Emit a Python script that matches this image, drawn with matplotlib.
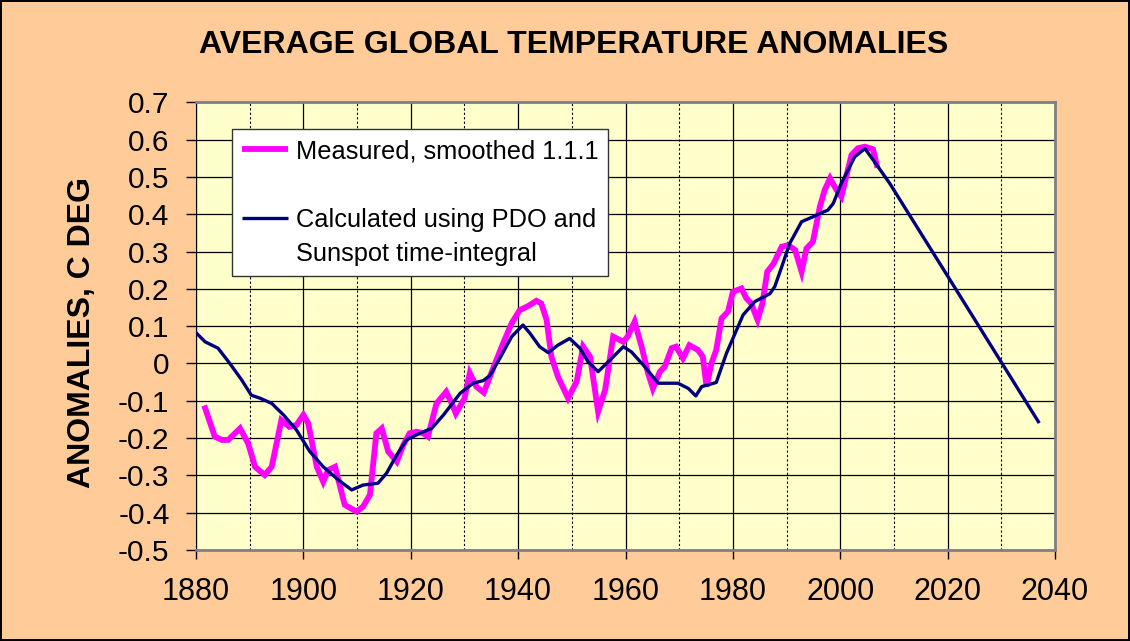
import numpy as np
import matplotlib
matplotlib.use("Agg")
import matplotlib.pyplot as plt
from matplotlib.lines import Line2D
from matplotlib.ticker import MultipleLocator, FixedLocator, FixedFormatter

plt.rcParams['font.family'] = ['Liberation Sans', 'DejaVu Sans']

# -----------------------------
#  Dados
# -----------------------------
measured_years = [1881.7, 1883.5, 1884.8, 1886.0, 1888.2, 1889.7, 1891.0, 1892.8, 1894.1,
                  1895.9, 1897.4, 1898.7, 1900.0, 1900.9, 1902.5, 1903.7, 1904.6, 1905.9,
                  1907.7, 1909.9, 1911.1, 1912.4, 1913.6, 1914.6, 1915.8, 1917.4, 1918.6,
                  1919.8, 1921.1, 1922.3, 1923.2, 1924.8, 1926.6, 1927.5, 1928.4, 1930.0,
                  1931.0, 1932.2, 1933.6, 1935.7, 1937.2, 1938.8, 1940.3, 1941.9,
                  1943.4, 1944.3, 1945.3, 1946.2, 1947.4, 1949.3, 1950.9, 1952.1, 1953.4,
                  1954.9, 1956.2, 1957.7, 1959.6, 1960.4, 1961.7, 1963.0, 1964.2, 1965.1,
                  1966.4, 1967.3, 1968.6, 1969.4, 1970.7, 1971.9, 1973.5, 1974.4, 1975.1,
                  1976.0, 1976.9, 1977.9, 1979.1, 1980.0, 1981.6, 1982.5, 1983.4, 1984.6,
                  1985.5, 1986.4, 1987.6, 1989.1, 1990.3, 1991.6, 1992.8, 1993.7, 1994.9,
                  1996.2, 1997.1, 1998.1, 1999.3, 2000.2, 2002.1, 2003.3, 2004.6, 2006.1,
                  2006.8]
measured_vals = [-0.12, -0.196, -0.205, -0.205, -0.174, -0.214, -0.277, -0.299, -0.277,
                 -0.152, -0.170, -0.165, -0.138, -0.160, -0.277, -0.317, -0.286, -0.277,
                 -0.379, -0.397, -0.384, -0.352, -0.187, -0.174, -0.236, -0.263, -0.219,
                 -0.187, -0.183, -0.187, -0.196, -0.107, -0.076, -0.103, -0.134, -0.094,
                 -0.026, -0.062, -0.078, 0.0, 0.054, 0.108, 0.143, 0.154,
                 0.168, 0.161, 0.117, 0.018, -0.035, -0.093, -0.049, 0.045, 0.018,
                 -0.129, -0.071, 0.072, 0.058, 0.072, 0.112, 0.045, -0.026, -0.067,
                 -0.022, -0.009, 0.041, 0.045, 0.014, 0.049, 0.036, 0.018, -0.062,
                 0.0, 0.036, 0.121, 0.139, 0.192, 0.201, 0.175, 0.161, 0.117,
                 0.161, 0.246, 0.268, 0.313, 0.317, 0.304, 0.246, 0.308, 0.326,
                 0.420, 0.465, 0.496, 0.465, 0.447, 0.559, 0.577, 0.581, 0.574,
                 0.532]

calc_years = [1880.1, 1881.7, 1884.1, 1886.3, 1888.5, 1890.3, 1891.9, 1894.1, 1896.3,
              1898.7, 1901.2, 1903.7, 1906.5, 1909.0, 1911.1, 1913.9, 1915.5, 1917.4,
              1919.2, 1921.7, 1923.9, 1926.1, 1929.2, 1931.6, 1933.5, 1934.7, 1936.6,
              1938.8, 1940.9, 1942.2, 1944.0, 1945.6, 1947.4, 1949.6, 1951.5, 1953.0,
              1954.9, 1957.1, 1959.6, 1961.1, 1963.3, 1966.1, 1969.8, 1971.7, 1973.1,
              1974.2, 1976.9, 1978.8, 1981.9, 1984.1, 1986.9, 1987.8, 1989.1, 1990.6,
              1992.8, 1994.9, 1996.2, 1997.7, 1998.7, 2000.2, 2002.7, 2004.6, 2006.8,
              2009.2, 2020.1, 2036.9]
calc_vals = [0.081, 0.058, 0.041, 0.0, -0.044, -0.085, -0.093, -0.107, -0.138,
             -0.178, -0.236, -0.277, -0.312, -0.339, -0.326, -0.321, -0.294, -0.245,
             -0.205, -0.187, -0.174, -0.138, -0.080, -0.053, -0.046, -0.033, 0.014,
             0.072, 0.103, 0.081, 0.045, 0.029, 0.049, 0.067, 0.041, 0.005,
             -0.022, 0.009, 0.045, 0.031, -0.004, -0.053, -0.053, -0.067, -0.087,
             -0.062, -0.051, 0.027, 0.130, 0.166, 0.187, 0.206, 0.259, 0.322,
             0.380, 0.393, 0.402, 0.411, 0.429, 0.483, 0.554, 0.576, 0.532,
             0.483, 0.232, -0.156]

y_ticks = [-0.5, -0.4, -0.3, -0.2, -0.1, 0.0, 0.1, 0.2, 0.3, 0.4, 0.5, 0.6, 0.7]
y_labels = ['-0.5', '-0.4', '-0.3', '-0.2', '-0.1', '0', '0.1', '0.2', '0.3',
            '0.4', '0.5', '0.6', '0.7']

legend_labels = ['Measured, smoothed 1.1.1', ' ', 'Calculated using PDO and',
                 'Sunspot time-integral']

# -----------------------------
#  Gráfico
# -----------------------------
fig = plt.figure(figsize=(11.3, 6.41), dpi=100)
fig.patch.set_facecolor('#FFCC99')
fig.patch.set_edgecolor('black')
fig.patch.set_linewidth(1.5)

ax = fig.add_axes([196 / 1130, 1 - 550 / 641, 859 / 1130, (550 - 102.3) / 641])
ax.set_facecolor('#FFFFCC')

l_meas, = ax.plot(measured_years, measured_vals, color='#FF00FF', linewidth=4.2,
                  solid_joinstyle='miter', zorder=3)
l_calc, = ax.plot(calc_years, calc_vals, color='#000080', linewidth=2.4, zorder=4)

ax.set_xlim(1880, 2040)
ax.set_ylim(-0.5, 0.7)
ax.xaxis.set_major_locator(MultipleLocator(20))
ax.xaxis.set_minor_locator(MultipleLocator(10))
ax.yaxis.set_major_locator(FixedLocator(y_ticks))
ax.yaxis.set_major_formatter(FixedFormatter(y_labels))

ax.grid(True, which='major', axis='both', color='black', linewidth=0.9, linestyle='-', zorder=1)
ax.grid(True, which='minor', axis='x', color='black', linewidth=0.8, linestyle=(0, (2, 2)), zorder=1)
ax.set_axisbelow(True)

ax.tick_params(axis='x', which='major', direction='out', length=6.5, width=1, pad=13, labelsize=22)
ax.tick_params(axis='x', which='minor', length=0)
ax.tick_params(axis='y', direction='out', length=7, width=1, pad=12, labelsize=21.5)

for side in ['top', 'right', 'bottom']:
    ax.spines[side].set_color('#808080')
    ax.spines[side].set_linewidth(2)
ax.spines['left'].set_color('black')

ax.set_ylabel('ANOMALIES, C DEG', fontsize=23, fontweight='bold')
ax.yaxis.set_label_coords(-0.115, 0.485)

fig.text(574 / 1130, 1 - 45 / 641, 'AVERAGE GLOBAL TEMPERATURE ANOMALIES',
         ha='center', va='center', fontsize=23, fontweight='bold')

blank = Line2D([], [], color='none')
leg = ax.legend([l_meas, blank, l_calc, blank], legend_labels,
                loc='upper left', bbox_to_anchor=((232 - 196) / 859, (550 - 129) / 447.7),
                fontsize=18.3, frameon=True, fancybox=False, framealpha=1,
                edgecolor='#333333', borderpad=0.4, labelspacing=0.4,
                handlelength=1.8, handletextpad=0.3, borderaxespad=0)
leg.get_frame().set_linewidth(1)
for line in leg.get_lines():
    line.set_solid_capstyle('butt')

plt.savefig('out.png', dpi=100, facecolor=fig.get_facecolor(), edgecolor='black')
